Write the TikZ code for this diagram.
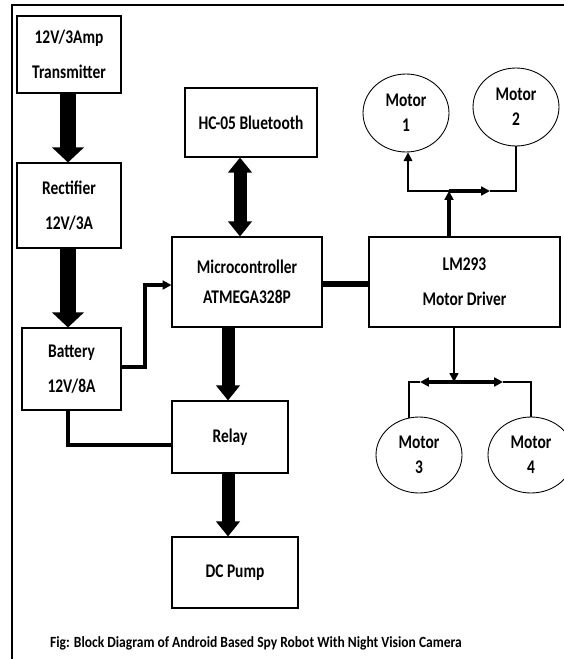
\documentclass[tikz,border=0pt]{standalone}
\usepackage{fontspec}
\setmainfont{Carlito}
\usetikzlibrary{arrows.meta,shapes.geometric}
% the labels in the picture are drawn taller than the font
\newcommand{\vtxt}[1]{\scalebox{1}[1.25]{#1}}

\begin{document}
\begin{tikzpicture}[x=0.02cm,y=-0.02cm,
  blk/.style={draw,line width=0.6pt,align=center,inner sep=0pt,
    font=\bfseries\fontsize{8.8}{20}\selectfont},
  motor/.style={draw,ellipse,line width=0.5pt,inner sep=0pt,align=center,
    minimum width=1.72cm,minimum height=1.56cm,
    font=\bfseries\fontsize{8.8}{14}\selectfont},
  fat/.style={line width=0.34cm,-{Triangle[width=0.62cm,length=0.3cm]}},
  mid/.style={line width=0.26cm,-{Triangle[width=0.46cm,length=0.3cm]}},
  wire/.style={line width=2.2pt},
  thinwire/.style={line width=0.8pt},
  tip/.style={-{Triangle[width=5pt,length=5pt]}}]
\useasboundingbox (0,0) rectangle (564,659);
% frame, only the left and top sides show
\draw[line width=1.6pt] (12,659) -- (12,5) -- (564,5);

% left column: supply
\node[blk,minimum width=2.08cm,minimum height=1.54cm] (tx) at (69,54.5) {\vtxt{12V/3Amp}\\\vtxt{Transmitter}};
\node[blk,minimum width=2.08cm,minimum height=1.70cm] (rect) at (69,205.5) {\vtxt{Rectifier}\\\vtxt{12V/3A}};
\node[blk,minimum width=1.98cm,minimum height=1.64cm] (batt) at (71.5,369) {\vtxt{Battery}\\\vtxt{12V/8A}};

% middle column
\node[blk,minimum width=2.64cm,minimum height=1.38cm] (bt) at (251,122.5) {\vtxt{HC-05 Bluetooth}};
\node[blk,minimum width=3.00cm,minimum height=1.80cm,
  font=\bfseries\fontsize{8.8}{17}\selectfont] (mcu) at (247,282) {\vtxt{Microcontroller}\\\vtxt{ATMEGA328P}};
\node[blk,minimum width=2.32cm,minimum height=1.44cm] (relay) at (230,437) {\vtxt{Relay}};
\node[blk,minimum width=2.52cm,minimum height=1.42cm] (pump) at (235,572.5) {\vtxt{DC Pump}};

% right side: driver and motors
\node[blk,minimum width=3.82cm,minimum height=1.80cm] (drv) at (464.5,282) {\vtxt{LM293}\\\vtxt{Motor Driver}};
\node[motor] (m1) at (406,113) {\vtxt{Motor}\\\vtxt{1}};
\node[motor] (m2) at (516,107) {\vtxt{Motor}\\\vtxt{2}};
\node[motor,minimum height=1.52cm] (m3) at (419,455) {\vtxt{Motor}\\\vtxt{3}};
\node[motor,minimum height=1.52cm] (m4) at (531,455) {\vtxt{Motor}\\\vtxt{4}};

% thick arrows
\draw[fat] (tx.south -| 68,0) -- (rect.north -| 68,0);
\draw[fat] (rect.south -| 68,0) -- (batt.north -| 68,0);
\draw[mid,{Triangle[width=0.46cm,length=0.3cm]}-{Triangle[width=0.46cm,length=0.3cm]}]
  (bt.south -| 240,0) -- (mcu.north -| 240,0);
\draw[mid] (mcu.south -| 228,0) -- (relay.north -| 228,0);
\draw[mid] (relay.south -| 228,0) -- (pump.north -| 228,0);

% battery feeds
\coordinate (bb) at (145,367);
\draw[wire,tip] (batt.east |- bb) -- (bb) |- (mcu.west |- 0,285);
\draw[wire] (batt.south -| 68,0) |- (relay.west |- 0,445);
\draw[line width=3pt] (mcu.east |- 0,284) -- (drv.west |- 0,284);

% driver to motors 1 and 2
\coordinate (jt) at (449,191);
\coordinate (jr) at (490,191);
\draw[wire,tip] (drv.north -| jt) -- (jt);
\draw[thinwire,tip] (jt) -| (m1.south -| 408,0);
\draw[wire,tip] (jt) -- (jr);
\draw[thinwire] (jr) -| (m2.south);

% driver to motors 3 and 4
\coordinate (jb) at (454,382);
\coordinate (jl) at (420,382);
\coordinate (jr2) at (503,382);
\draw[thinwire,tip] (drv.south -| jb) -- (jb);
\draw[wire,{Triangle[width=5pt,length=5pt]}-{Triangle[width=5pt,length=5pt]}] (jl) -- (jr2);
\draw[thinwire] (jl) -| (m3.105);
\draw[thinwire] (jr2) -| (m4.north);

\node[font=\bfseries\fontsize{7.7}{8}\selectfont] (cap) at (256,643)
  {\scalebox{1}[1.15]{Fig: Block Diagram of Android Based Spy Robot With Night Vision Camera}};
\end{tikzpicture}
\end{document}
